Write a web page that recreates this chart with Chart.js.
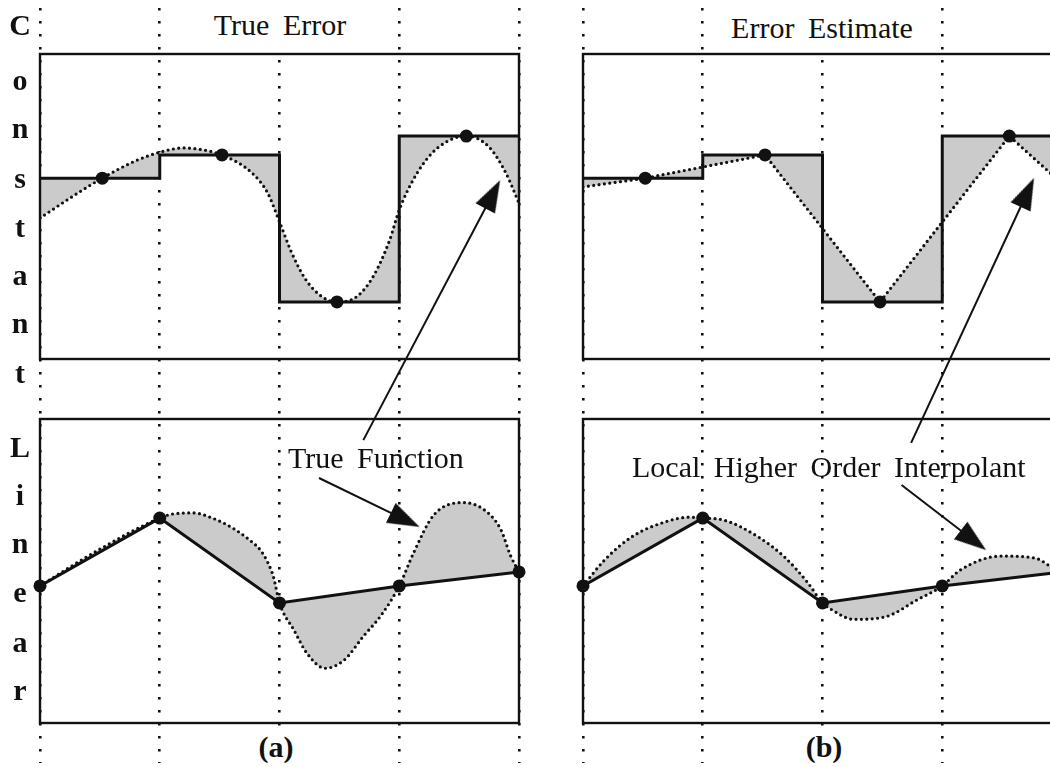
<!DOCTYPE html>
<html>
<head>
<meta charset="utf-8">
<title>Constant / Linear interpolation error</title>
<script src="https://cdn.jsdelivr.net/npm/chart.js@4.4.1/dist/chart.umd.min.js"></script>
<style>
  html, body { margin: 0; padding: 0; background: #fff; overflow: hidden; }
  body { width: 1050px; height: 767px; position: relative; font-family: "Liberation Serif", "Times New Roman", serif; color: #111; }
  canvas { position: absolute; top: 0; }
  .txt { position: absolute; font-size: 30px; line-height: 30px; white-space: nowrap; word-spacing: 6px; }
  .mask { background: #fff; text-align: center; box-sizing: border-box; }
  .side { position: absolute; left: 6px; width: 28px; text-align: center; font-size: 30px; line-height: 30px; font-weight: bold; }
</style>
</head>
<body>
<canvas id="colA" width="560" height="767" style="left:0"></canvas>
<canvas id="colB" width="560" height="767" style="left:543px"></canvas>

<div class="txt mask" style="left:205px;width:150px;top:0;height:52px;padding-top:10px">True Error</div>
<div class="txt mask" style="left:712px;width:220px;top:0;height:52px;padding-top:13px">Error Estimate</div>
<div class="txt" style="left:288px;top:443px">True Function</div>
<div class="txt" style="left:632px;top:452px">Local Higher Order Interpolant</div>
<div class="txt mask" style="left:246px;width:60px;top:726px;height:41px;padding-top:6px;font-weight:bold">(a)</div>
<div class="txt mask" style="left:794px;width:60px;top:726px;height:41px;padding-top:6px;font-weight:bold">(b)</div>

<div class="side" style="top:10px">C</div>
<div class="side" style="top:65px">o</div>
<div class="side" style="top:113px">n</div>
<div class="side" style="top:163px">s</div>
<div class="side" style="top:212px">t</div>
<div class="side" style="top:260px">a</div>
<div class="side" style="top:308px">n</div>
<div class="side" style="top:358px">t</div>
<div class="side" style="top:432px">L</div>
<div class="side" style="top:480px">i</div>
<div class="side" style="top:528px">n</div>
<div class="side" style="top:577px">e</div>
<div class="side" style="top:627px">a</div>
<div class="side" style="top:675px">r</div>

<script>
// ---- values (x: 4 intervals, y: 0..10 inside each panel) ----
const nodeX = [0, 1, 2, 3, 4];
const sampleX = [0.52, 1.52, 2.48, 3.56];
const constLevels = [5.93, 6.69, 1.87, 7.31];
const nodeVals = [4.51, 6.74, 3.95, 4.51, 4.97];

// true function, top row
const topTrueX = [0, 0.26, 0.52, 0.8, 1.01, 1.2, 1.37, 1.52, 1.77, 1.9, 2.0, 2.1, 2.22, 2.36, 2.48, 2.64, 2.78, 2.92, 3.0, 3.15, 3.32, 3.56, 3.75, 3.89, 4.0];
const topTrueY = [4.62, 5.3, 5.93, 6.5, 6.79, 6.92, 6.85, 6.69, 6.1, 5.45, 4.5, 3.5, 2.6, 2.03, 1.87, 2.03, 2.69, 3.9, 4.89, 6.1, 6.92, 7.31, 6.95, 6.1, 5.11];
// piecewise linear error estimate, top row
const topEstX = [0, 0.52, 1.52, 2.48, 3.56, 4];
const topEstY = [5.64, 5.93, 6.69, 1.87, 7.31, 5.75];

// true function, bottom row
const botTrueX = [0, 0.5, 1, 1.1, 1.28, 1.44, 1.61, 1.75, 1.84, 1.9, 1.95, 2, 2.12, 2.23, 2.38, 2.54, 2.7, 2.85, 3, 3.12, 3.29, 3.54, 3.73, 3.85, 3.93, 4];
const botTrueY = [4.51, 5.72, 6.74, 6.87, 6.91, 6.74, 6.41, 6.02, 5.69, 5.3, 4.8, 3.95, 3.06, 2.29, 1.8, 2.07, 2.85, 3.55, 4.51, 5.6, 6.85, 7.25, 6.95, 6.35, 5.5, 4.97];
// local higher order interpolant, bottom row
const botEstX = [0, 0.18, 0.41, 0.69, 0.89, 1, 1.17, 1.46, 1.68, 1.88, 2, 2.08, 2.26, 2.53, 2.79, 3, 3.15, 3.49, 3.78, 3.91, 4];
const botEstY = [4.51, 5.36, 6.13, 6.62, 6.77, 6.74, 6.68, 6.13, 5.47, 4.6, 3.95, 3.72, 3.41, 3.5, 4.05, 4.51, 5.03, 5.49, 5.42, 5.14, 4.97];

// annotation arrows (start, head centre) in panel units
const arrowTrueUpX = [2.70, 3.78];
const arrowTrueUpY = [-2.66, 5.40];
const arrowTrueDownX = [2.33, 3.05];
const arrowTrueDownY = [8.06, 6.68];
const arrowEstUpX = [2.74, 3.71];
const arrowEstUpY = [-2.75, 5.46];
const arrowEstDownX = [2.66, 3.26];
const arrowEstDownY = [7.83, 6.01];

const INK = '#111';
const SHADE = '#cbcbcb';

// arrow head sprite, pointing up; rotated per arrow by Chart.js
const arrowHead = document.createElement('canvas');
arrowHead.width = 22;
arrowHead.height = 32;
(function () {
  const g = arrowHead.getContext('2d');
  g.fillStyle = INK;
  g.beginPath();
  g.moveTo(11, 0);
  g.lineTo(22, 32);
  g.lineTo(0, 32);
  g.closePath();
  g.fill();
})();

const pts = (xs, ys) => xs.map((x, i) => ({ x: x, y: ys[i] }));
const stepPts = nodeX.map((x, i) => ({ x: x, y: constLevels[Math.min(i, constLevels.length - 1)] }));

function headAngle(ctx) {
  const ds = ctx.dataset, c = ctx.chart;
  const a = ds.data[0], b = ds.data[1];
  const xs = c.scales.x, ys = c.scales[ds.yAxisID];
  if (!xs || !ys) return 0;
  const dx = xs.getPixelForValue(b.x) - xs.getPixelForValue(a.x);
  const dy = ys.getPixelForValue(b.y) - ys.getPixelForValue(a.y);
  return Math.atan2(dx, -dy) * 180 / Math.PI;
}

function dots(data, axis) {
  return { data: data, yAxisID: axis, showLine: false, clip: false, pointRadius: 6.5,
    pointBackgroundColor: INK, pointBorderColor: INK, pointBorderWidth: 0 };
}
function arrow(xs, ys, axis) {
  return { data: pts(xs, ys), yAxisID: axis, clip: false, borderColor: INK, borderWidth: 2,
    tension: 0, pointRadius: [0, 16], pointStyle: ['circle', arrowHead], pointRotation: headAngle,
    pointBackgroundColor: INK, pointBorderColor: INK, pointBorderWidth: 0 };
}
function solid(data, axis, stepped) {
  return { data: data, yAxisID: axis, borderColor: INK, borderWidth: 3, pointRadius: 0,
    stepped: stepped, tension: 0, fill: false };
}
function dotted(data, axis, smooth) {
  return { data: data, yAxisID: axis, borderColor: INK, borderWidth: 3.2, borderDash: [0, 5.4],
    borderCapStyle: 'round', pointRadius: 0, tension: 0,
    cubicInterpolationMode: smooth ? 'monotone' : 'default', fill: '-1', backgroundColor: SHADE };
}

function yAxis(h, order) {
  return { type: 'linear', axis: 'y', position: 'left', min: 0, max: 10, stack: 'col',
    stackWeight: h, weight: order,
    ticks: { display: false }, grid: { display: false, drawTicks: false }, border: { display: false } };
}

// frame around the two panels of a column, placed by the panel scales
const panelFrames = {
  id: 'panelFrames',
  beforeDatasetsDraw(chart) {
    const { ctx, chartArea, scales } = chart;
    ctx.save();
    ctx.strokeStyle = INK;
    ctx.lineWidth = 2.4;
    ['yTop', 'yBot'].forEach(id => {
      const s = scales[id];
      ctx.strokeRect(chartArea.left, s.top, chartArea.right - chartArea.left, s.bottom - s.top);
    });
    ctx.restore();
  }
};

function column(canvasId, topCurve, topSmooth, botCurve, arrowTop, arrowBot) {
  return new Chart(document.getElementById(canvasId), {
    type: 'line',
    data: {
      datasets: [
        dots(pts(sampleX, constLevels), 'yTop'),
        dots(pts(nodeX, nodeVals), 'yBot'),
        arrowTop,
        arrowBot,
        solid(stepPts, 'yTop', true),
        dotted(topCurve, 'yTop', topSmooth),
        solid(pts(nodeX, nodeVals), 'yBot', false),
        dotted(botCurve, 'yBot', true)
      ]
    },
    options: {
      responsive: false,
      animation: false,
      events: [],
      layout: { autoPadding: false, padding: { left: 40, right: 41, top: 8, bottom: 4 } },
      plugins: {
        legend: { display: false },
        tooltip: { enabled: false },
        filler: { drawTime: 'beforeDatasetsDraw' }
      },
      scales: {
        x: {
          type: 'linear', min: 0, max: 4,
          ticks: { display: false, stepSize: 1 },
          grid: { color: INK, lineWidth: 2.6, drawTicks: false },
          border: { display: false, dash: [2.6, 10.4] }
        },
        yFoot: yAxis(40, 1),
        yBot: yAxis(304, 2),
        yGap: yAxis(60, 3),
        yTop: yAxis(305, 4),
        yHead: yAxis(46, 5)
      }
    },
    plugins: [panelFrames]
  });
}

column('colA', pts(topTrueX, topTrueY), true, pts(botTrueX, botTrueY),
  arrow(arrowTrueUpX, arrowTrueUpY, 'yTop'), arrow(arrowTrueDownX, arrowTrueDownY, 'yBot'));
column('colB', pts(topEstX, topEstY), false, pts(botEstX, botEstY),
  arrow(arrowEstUpX, arrowEstUpY, 'yTop'), arrow(arrowEstDownX, arrowEstDownY, 'yBot'));
</script>
</body>
</html>
